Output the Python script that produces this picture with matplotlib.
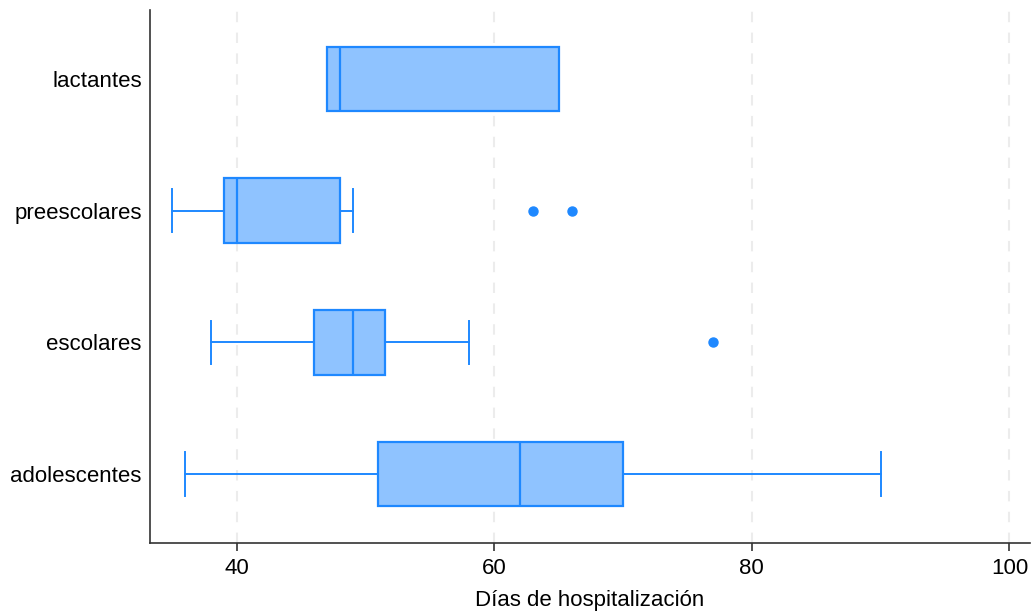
import matplotlib
matplotlib.use("Agg")
import matplotlib.pyplot as plt

categories = ["adolescentes", "escolares", "preescolares", "lactantes"]
whislo = [36, 38, 35, 47]
q1 = [51, 46, 39, 47]
med = [62, 49, 40, 48]
q3 = [70, 51.5, 48, 65]
whishi = [90, 58, 49, 65]
fliers = [[], [77], [63, 66], []]
xticks = [40, 60, 80, 100]

plt.rcParams['font.family'] = ['Liberation Sans', 'DejaVu Sans']

fig = plt.figure(figsize=(10.31, 6.12), dpi=100)
ax = fig.add_axes([150/1031, 1 - 543/612, (1030-150)/1031, (543-10)/612])

blue = '#1E88FF'
fill = '#8FC3FF'
stats = []
for i, c in enumerate(categories):
    stats.append(dict(label=c, whislo=whislo[i], q1=q1[i], med=med[i],
                      q3=q3[i], whishi=whishi[i], fliers=fliers[i]))

ax.bxp(stats, positions=range(1, len(categories) + 1), vert=False,
       widths=0.49, patch_artist=True, showfliers=True,
       boxprops=dict(facecolor=fill, edgecolor=blue, linewidth=1.6),
       medianprops=dict(color=blue, linewidth=1.6),
       whiskerprops=dict(color=blue, linewidth=1.4),
       capprops=dict(color=blue, linewidth=1.4),
       capwidths=0.33,
       flierprops=dict(marker='o', markerfacecolor=blue, markeredgecolor=blue,
                       markersize=6.5, linestyle='none'))

ax.set_xlim(33.26, 101.6)
ax.set_ylim(0.476, 4.524)
ax.set_xticks(xticks)
ax.set_xticklabels([str(t) for t in xticks])
ax.set_yticks(range(1, len(categories) + 1))
ax.set_yticklabels(categories)
ax.xaxis.grid(True, linestyle=(0, (5, 5)), color='#ececec', linewidth=1.5)
ax.set_axisbelow(True)
for s in ['top', 'right']:
    ax.spines[s].set_visible(False)
for s in ['left', 'bottom']:
    ax.spines[s].set_color('#333333')
    ax.spines[s].set_linewidth(1.2)
ax.tick_params(axis='x', length=6, width=1.2, color='#333333', labelsize=16, pad=5)
ax.tick_params(axis='y', length=0, labelsize=16, pad=6)
ax.set_xlabel('Días de hospitalización', fontsize=16, labelpad=8)

fig.savefig('out.png', dpi=100)
